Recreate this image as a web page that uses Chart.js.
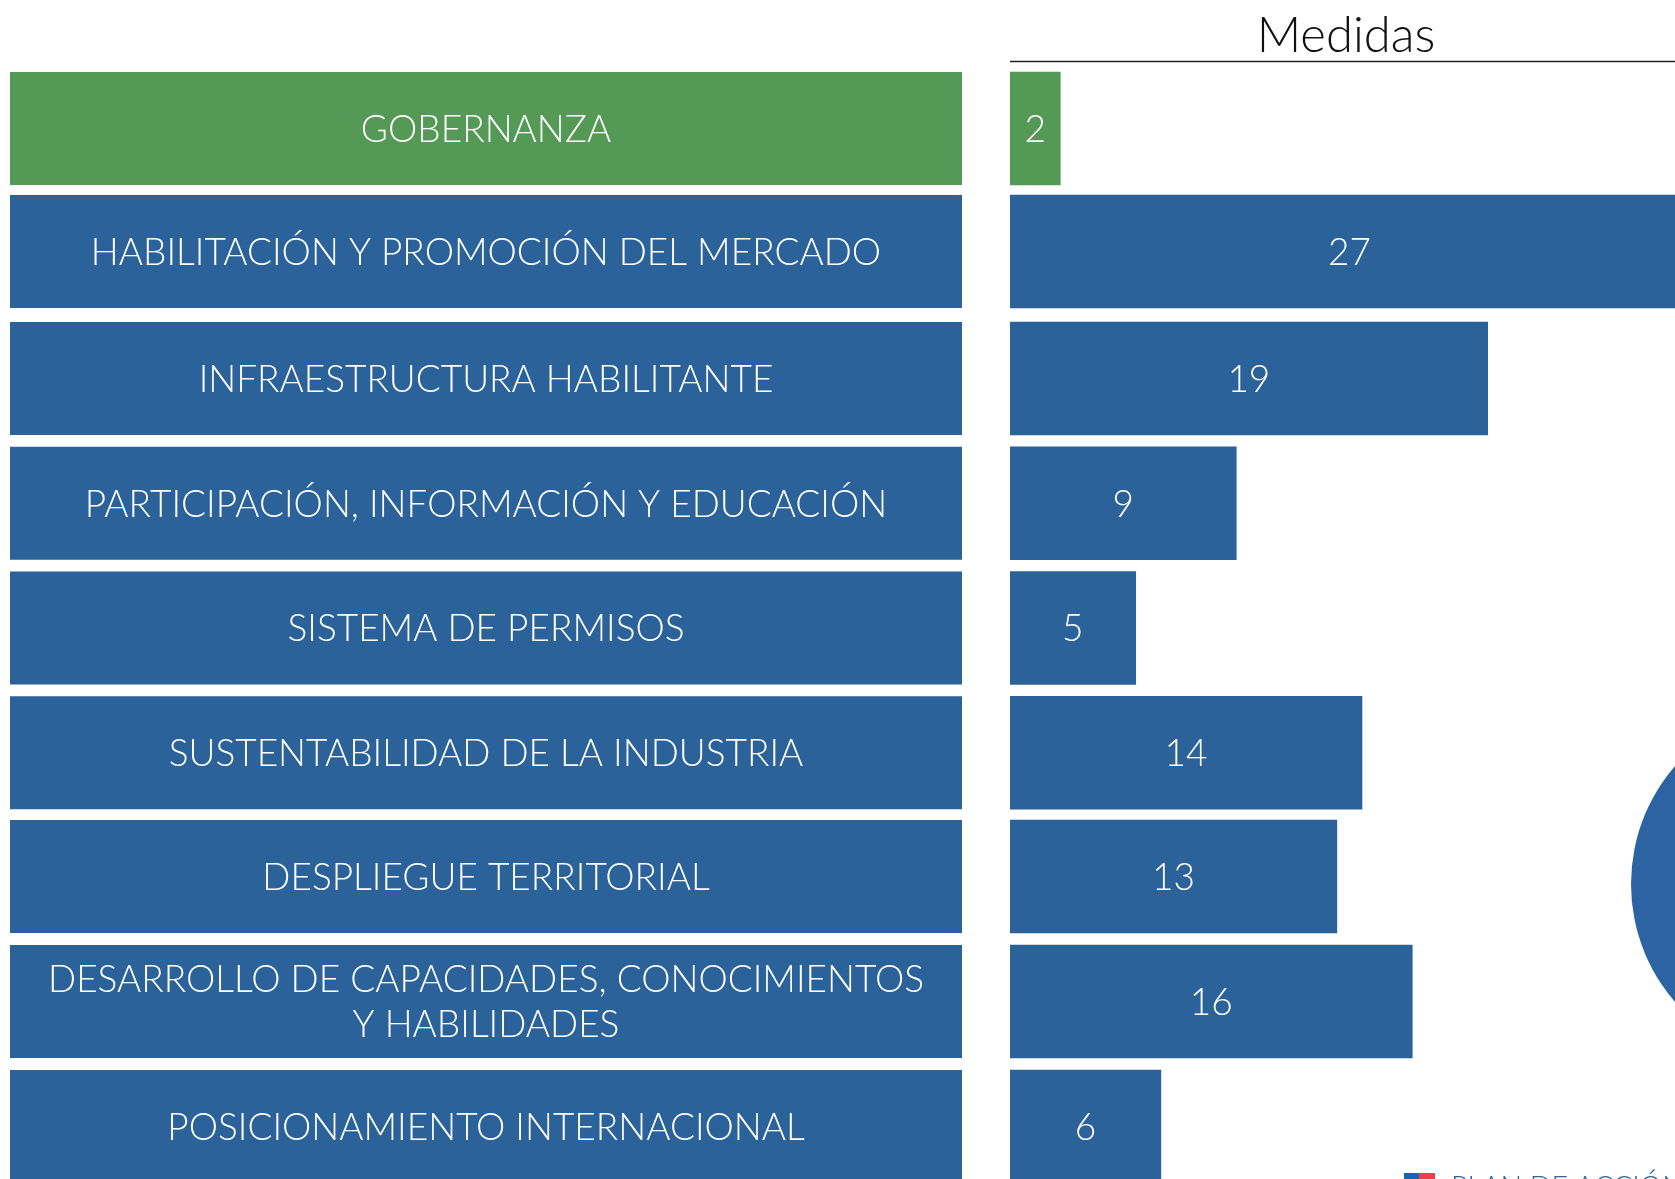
<!DOCTYPE html>
<html>
<head>
<meta charset="utf-8">
<style>
  html, body { margin: 0; padding: 0; background: #fff; width: 1675px; height: 1179px; overflow: hidden; }
  /* last row runs off the bottom of the page, so the canvas is taller than the window */
  #wrap { position: relative; width: 1675px; height: 1190px; }
</style>
</head>
<body>
<div id="wrap"><canvas id="chart"></canvas></div>
<script src="https://cdn.jsdelivr.net/npm/chart.js@4/dist/chart.umd.min.js"></script>
<script>
'use strict';

/* DATA */
const categories = [
  'GOBERNANZA',
  'HABILITACIÓN Y PROMOCIÓN DEL MERCADO',
  'INFRAESTRUCTURA HABILITANTE',
  'PARTICIPACIÓN, INFORMACIÓN Y EDUCACIÓN',
  'SISTEMA DE PERMISOS',
  'SUSTENTABILIDAD DE LA INDUSTRIA',
  'DESPLIEGUE TERRITORIAL',
  'DESARROLLO DE CAPACIDADES, CONOCIMIENTOS\nY HABILIDADES',
  'POSICIONAMIENTO INTERNACIONAL'
];
const medidas = [2, 27, 19, 9, 5, 14, 13, 16, 6];
const seriesName = 'Medidas';
const footerText = 'PLAN DE ACCIÓN';

/* COLORS */
const BLUE = '#2a6299';
const GREEN = '#559957';
const barColors = categories.map((_, i) => (i === 0 ? GREEN : BLUE));

/* LAYOUT */
const FONT = 'Lato';
// the rows are not quite evenly spaced in the original
const rowNudge = [-0.5, -2.25, 0, 0, 0, 0, -1, -0.75, -0.5];
const PANEL_LEFT = 10;
const PANEL_RIGHT = 962;
const BAR_LEFT = 1010;
const BAR_HEIGHT = 113;
const TEXT_DROP = 1.5;

/* row nudge, applied after the scale has placed the bars */
const nudgeRows = {
  id: 'nudgeRows',
  afterDatasetsUpdate(chart) {
    chart.getDatasetMeta(0).data.forEach((bar, i) => { bar.y += rowNudge[i]; });
  }
};

/* header, category panels, circle and footer */
const panels = {
  id: 'panels',
  beforeDatasetsDraw(chart) {
    const { ctx } = chart;
    const bars = chart.getDatasetMeta(0).data;
    ctx.save();

    // circle on the right edge
    ctx.fillStyle = '#2c64a3';
    ctx.beginPath();
    ctx.arc(1811, 884, 180, 0, Math.PI * 2);
    ctx.fill();

    // header
    ctx.fillStyle = '#111';
    ctx.textAlign = 'center';
    ctx.textBaseline = 'alphabetic';
    ctx.font = `300 49px ${FONT}`;
    ctx.fillText(seriesName, 1346, 52);
    ctx.strokeStyle = '#222';
    ctx.lineWidth = 1.5;
    ctx.beginPath();
    ctx.moveTo(BAR_LEFT, 61.5);
    ctx.lineTo(1675, 61.5);
    ctx.stroke();

    // category panels
    bars.forEach((bar, i) => {
      const top = bar.y - BAR_HEIGHT / 2;
      ctx.fillStyle = barColors[i];
      ctx.fillRect(PANEL_LEFT, top, PANEL_RIGHT - PANEL_LEFT, BAR_HEIGHT);
      ctx.fillStyle = '#fff';
      ctx.font = `300 37px ${FONT}`;
      ctx.textBaseline = 'middle';
      const lines = categories[i].split('\n');
      lines.forEach((line, j) => {
        const y = bar.y + TEXT_DROP + (j - (lines.length - 1) / 2) * 45;
        ctx.fillText(line, (PANEL_LEFT + PANEL_RIGHT) / 2, y);
      });
    });

    // footer mark
    ctx.fillStyle = '#1167b1';
    ctx.fillRect(1404, 1173, 15, 6);
    ctx.fillStyle = '#ef3e4a';
    ctx.fillRect(1419, 1173, 16, 6);
    ctx.fillStyle = '#2a6299';
    ctx.textAlign = 'left';
    ctx.textBaseline = 'alphabetic';
    ctx.font = `300 28.5px ${FONT}`;
    ctx.fillText(footerText, 1451, 1197);
    ctx.restore();
  }
};

/* values in the middle of each bar */
const valueLabels = {
  id: 'valueLabels',
  afterDatasetsDraw(chart) {
    const { ctx } = chart;
    ctx.save();
    ctx.fillStyle = '#fff';
    ctx.font = `300 37px ${FONT}`;
    ctx.textAlign = 'center';
    ctx.textBaseline = 'middle';
    chart.getDatasetMeta(0).data.forEach((bar, i) => {
      ctx.fillText(String(medidas[i]), (bar.base + bar.x) / 2, bar.y + TEXT_DROP);
    });
    ctx.restore();
  }
};

Chart.defaults.animation = false;

new Chart(document.getElementById('chart'), {
  type: 'bar',
  data: {
    labels: categories,
    datasets: [{
      label: seriesName,
      data: medidas,
      backgroundColor: barColors,
      borderWidth: 0,
      barThickness: BAR_HEIGHT
    }]
  },
  options: {
    indexAxis: 'y',
    responsive: true,
    maintainAspectRatio: false,
    layout: { padding: { left: BAR_LEFT, top: 66.6, right: 0, bottom: 0.6 } },
    plugins: { legend: { display: false }, tooltip: { enabled: false } },
    scales: {
      x: { display: false, min: 0, max: 26.45 },
      y: { display: false }
    }
  },
  plugins: [nudgeRows, panels, valueLabels]
});
</script>
</body>
</html>
